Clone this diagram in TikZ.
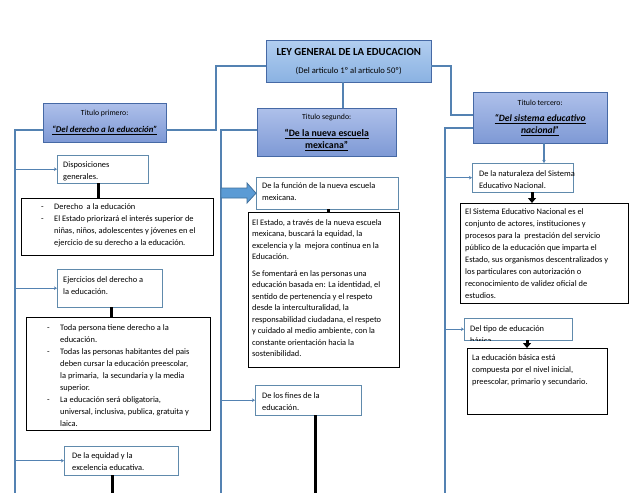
\documentclass[tikz,border=0pt]{standalone}
\usepackage{fontspec}
\setmainfont{Carlito}
\usetikzlibrary{arrows.meta}
\definecolor{bordetitulo}{RGB}{70,105,165}
\definecolor{azulclaro}{RGB}{178,206,240}
\definecolor{azulraiz}{RGB}{138,178,226}
\definecolor{lilaclaro}{RGB}{174,192,234}
\definecolor{lila}{RGB}{126,153,213}
\definecolor{azullinea}{RGB}{84,130,178}
\definecolor{bordecaja}{RGB}{96,138,172}
\definecolor{azulflecha}{RGB}{91,155,213}
\definecolor{bordeflecha}{RGB}{65,113,156}
\newcommand{\lineas}[1]{\begin{tabular}[t]{@{}l@{}}#1\end{tabular}}
\newcommand{\guiones}[1]{\begin{tabular}[t]{@{}p{13pt}@{}l@{}}#1\end{tabular}}
\tikzset{
    raiz/.style={draw=bordetitulo,top color=azulclaro,bottom color=azulraiz,
        anchor=north west,inner sep=0pt,align=center},
    titulo/.style={draw=bordetitulo,top color=lilaclaro,bottom color=lila,
        anchor=north west,inner sep=0pt,align=center},
    marco/.style={draw=bordecaja,fill=white,anchor=north west,inner sep=0pt},
    marconegro/.style={draw=black,semithick,fill=white,anchor=north west,inner sep=0pt},
    texto/.style={anchor=base west,inner sep=0pt,font=\fontsize{8.4}{12}\selectfont},
    enlace/.style={draw=azullinea,line width=1.1pt},
    flecha/.style={enlace,-{Stealth[length=3pt,width=3.5pt]}},
    union/.style={line width=3pt},
    bajada/.style={union,-{Triangle[width=8pt,length=5pt]}},
    }
\begin{document}
\begin{tikzpicture}[x=1pt,y=-1pt]
\useasboundingbox[fill=white] (0,0) rectangle (638,493);
% titulos
\node[raiz,minimum width=165pt,minimum height=42pt] (raiz) at (266,40)
    {{\fontsize{10.8}{12}\selectfont\bfseries LEY GENERAL DE LA EDUCACION}\\[6pt]
     {\fontsize{8.6}{10}\selectfont (Del articulo 1º al articulo 50º)}};
\node[titulo,minimum width=123pt,minimum height=39pt] (tit1) at (43,103)
    {{\fontsize{7.8}{9}\selectfont Titulo primero:}\\[5pt]
     {\fontsize{8.8}{10}\selectfont\bfseries\itshape\underline{“Del derecho a la educación”}}};
\node[titulo,minimum width=139pt,minimum height=48pt] (tit2) at (257,108)
    {{\fontsize{7.8}{9}\selectfont Titulo segundo:}\\[5pt]
     {\fontsize{9.8}{11}\selectfont\bfseries\underline{“De la nueva escuela}}\\[0pt]
     {\fontsize{9.8}{11}\selectfont\bfseries\underline{mexicana”}}};
\node[titulo,minimum width=134pt,minimum height=51pt] (tit3) at (473,92)
    {{\fontsize{7.8}{9}\selectfont Titulo tercero:}\\[4pt]
     {\fontsize{9.6}{11}\selectfont\bfseries\itshape\underline{“Del sistema educativo}}\\[0pt]
     {\fontsize{9.6}{11}\selectfont\bfseries\itshape\underline{nacional”}}};
\coordinate (fin1) at (15,493);
\coordinate (fin2) at (221,493);
\coordinate (fin3) at (445,493);
\draw[enlace] (raiz.west |- 0,66) -| (216,130) -- (tit1.east |- 0,130);
\draw[enlace] (raiz.south -| 343,0) -- (tit2.north -| 343,0);
\draw[enlace] (raiz.east |- 0,66) -| (451,115) -- (tit3.west |- 0,115);
\draw[enlace] (tit1.west |- 0,130) -| (fin1);
\draw[enlace] (tit2.west |- 0,130) -| (fin2);
\draw[enlace] (tit3.west |- 0,128) -| (fin3);

% titulo primero
\node[marco,minimum width=91pt,minimum height=28pt] (disp) at (57,155) {};
\node[texto] (dispt) at (63,167) {\lineas{Disposiciones\\generales.}};
\node[marconegro,minimum width=192pt,minimum height=57pt] (lista1) at (21,198) {};
\node[texto] (lista1t) at (41,209) {\guiones{-&Derecho\ \ a la educación\\
    -&El Estado priorizará el interés superior de\\
    &niñas, niños, adolescentes y jóvenes en el\\
    &ejercicio de su derecho a la educación.}};
\node[marco,minimum width=105pt,minimum height=38pt] (ejer) at (57,269) {};
\node[texto] (ejert) at (63,282) {\lineas{Ejercicios del derecho a\\la educación.}};
\node[marconegro,minimum width=184pt,minimum height=113pt] (lista2) at (26,317) {};
\node[texto] (lista2t) at (47,330) {\guiones{-&Toda persona tiene derecho a la\\
    &educación.\\
    -&Todas las personas habitantes del pais\\
    &deben cursar la educación preescolar,\\
    &la primaria,\ \ la secundaria y la media\\
    &superior.\\
    -&La educación será obligatoria,\\
    &universal, inclusiva, publica, gratuita y\\
    &laica.}};
\node[marco,minimum width=114pt,minimum height=29pt] (equi) at (64,446) {};
\node[texto] (equit) at (72,458) {\lineas{De la equidad y la\\excelencia educativa.}};
\draw[flecha] (fin1 |- disp.west) -- (disp.west);
\draw[flecha] (fin1 |- ejer.west) -- (ejer.west);
\draw[flecha] (fin1 |- equi.west) -- (equi.west);
\draw[union] (disp.south -| 98,0) -- (lista1.north -| 98,0);
\draw[union] (ejer.south -| 111,0) -- (lista2.north -| 111,0);
\draw[union] (equi.south -| 112,0) -- (112,493);

% titulo segundo
\node[marco,minimum width=142pt,minimum height=32pt] (func) at (256,177) {};
\node[texto] (funct) at (262,188) {\lineas{De la función de la nueva escuela\\mexicana.}};
\node[marconegro,minimum width=151pt,minimum height=155pt] (parr2) at (248,212) {};
\node[texto,font=\fontsize{8.4}{11.5}\selectfont] (parr2t) at (252,225)
    {\lineas{El Estado, a través de la nueva escuela\\
    mexicana, buscará la equidad, la\\
    excelencia y la\ \ mejora continua en la\\
    Educación.\\[5pt]
    Se fomentará en las personas una\\
    educación basada en: La identidad, el\\
    sentido de pertenencia y el respeto\\
    desde la interculturalidad, la\\
    responsabilidad ciudadana, el respeto\\
    y cuidado al medio ambiente, con la\\
    constante orientación hacia la\\
    sostenibilidad.}};
\node[marco,minimum width=106pt,minimum height=30pt] (fines) at (255,385) {};
\node[texto] (finest) at (262,398) {\lineas{De los fines de la\\educación.}};
\draw[fill=azulflecha,draw=bordeflecha,line width=0.8pt] (fin2 |- 0,188) -- (247,188)
    -- (247,183) -- (func.west) -- (247,203) -- (247,198) -- (fin2 |- 0,198) -- cycle;
\draw[union] (func.south -| 328,0) -- (parr2.north -| 328,0);
\draw[flecha] (fin2 |- fines.west) -- (fines.west);
\draw[union] (fines.south -| 315,0) -- (315,493);

% titulo tercero
\node[marco,minimum width=101pt,minimum height=29pt] (natu) at (472,163) {};
\node[texto] (natut) at (479,176) {\lineas{De la naturaleza del Sistema\\Educativo Nacional.}};
\node[marconegro,minimum width=168pt,minimum height=100pt] (parr3) at (460,203) {};
\node[texto] (parr3t) at (465,214) {\lineas{El Sistema Educativo Nacional es el\\
    conjunto de actores, instituciones y\\
    procesos para la\ \ prestación del servicio\\
    público de la educación que imparta el\\
    Estado, sus organismos descentralizados y\\
    los particulares con autorización o\\
    reconocimiento de validez oficial de\\
    estudios.}};
\node[marco,minimum width=108pt,minimum height=22pt] (tipo) at (464,318) {};
\begin{scope}
\clip (464,318) rectangle (572,340);
\node[texto] (tipot) at (470,331) {\lineas{Del tipo de educación\\básica}};
\end{scope}
\node[marconegro,minimum width=140pt,minimum height=66pt] (parr4) at (467,348) {};
\node[texto] (parr4t) at (472,360) {\lineas{La educación básica está\\
    compuesta por el nivel inicial,\\
    preescolar, primario y secundario.}};
\draw[flecha] (tit3.south -| 544,0) -- (natu.north -| 544,0);
\draw[flecha] (fin3 |- natu.west) -- (natu.west);
\draw[flecha] (fin3 |- tipo.west) -- (tipo.west);
\draw[bajada] (natu.south -| 532,0) -- (parr3.north -| 532,0);
\draw[bajada] (tipo.south -| 527,0) -- (parr4.north -| 527,0);
\end{tikzpicture}
\end{document}
